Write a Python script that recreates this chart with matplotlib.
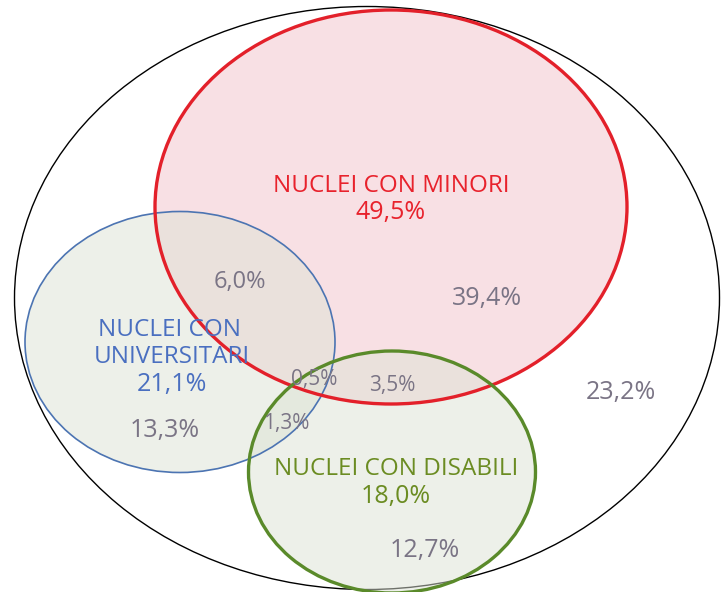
import matplotlib.pyplot as plt
from matplotlib.patches import Ellipse

plt.rcParams["font.family"] = ["Open Sans", "DejaVu Sans"]

# insiemi: etichetta, percentuale totale
set_names = ["NUCLEI CON MINORI", "NUCLEI CON\nUNIVERSITARI", "NUCLEI CON DISABILI"]
set_totals = ["49,5%", "21,1%", "18,0%"]

# percentuali delle singole regioni
region_names = ["solo minori", "minori+universitari", "solo universitari",
                "minori+universitari+disabili", "minori+disabili",
                "universitari+disabili", "solo disabili", "nessuno"]
region_values = ["39,4%", "6,0%", "13,3%", "0,5%", "3,5%", "1,3%", "12,7%", "23,2%"]

# geometria (pixel, origine in alto a sinistra)
outer = dict(xy=(367, 298), w=705, h=583)
ellipses = [
    dict(xy=(391, 207), w=472, h=394, fill="#F3C3CB", edge="#E3202A", lw=2.4),
    dict(xy=(180, 342), w=310, h=261, fill="#DDE3D5", edge="#4C74B2", lw=1.2),
    dict(xy=(392, 472), w=287, h=242, fill="#DDE3D5", edge="#5A8A2A", lw=2.4),
]
set_label_pos = [(391, 186), (170, 330), (396, 469)]
set_total_pos = [(391, 213), (172, 385), (396, 497)]
set_colors = ["#E8222C", "#4A6FC0", "#6B8C22"]
line_step = 27
region_pos = [(487, 298), (240, 282), (165, 430), (314, 379), (392, 386),
              (286, 423), (425, 550), (621, 392)]
region_sizes = [18, 17, 18, 15, 15, 15, 18, 18]

fig = plt.figure(figsize=(7.22, 5.92), dpi=100)
ax = fig.add_axes([0, 0, 1, 1])
ax.set_xlim(0, 722)
ax.set_ylim(592, 0)
ax.axis("off")

ax.add_patch(Ellipse(outer["xy"], outer["w"], outer["h"], facecolor="white",
                     edgecolor="black", lw=1.0, zorder=1))

# riempimenti semitrasparenti
for e in ellipses:
    ax.add_patch(Ellipse(e["xy"], e["w"], e["h"], facecolor=e["fill"],
                         edgecolor="none", alpha=0.5, zorder=2))

# contorni: blu sotto, poi rosso e verde
for i in [1, 0, 2]:
    e = ellipses[i]
    ax.add_patch(Ellipse(e["xy"], e["w"], e["h"], facecolor="none",
                         edgecolor=e["edge"], lw=e["lw"], zorder=3))

for name, tot, p1, p2, c in zip(set_names, set_totals, set_label_pos,
                                set_total_pos, set_colors):
    for k, line in enumerate(name.split("\n")):
        ax.text(p1[0] + 2 * k, p1[1] + k * line_step, line, color=c,
                fontsize=17.5, ha="center", va="center", zorder=4)
    ax.text(p2[0], p2[1], tot, color=c, fontsize=18, ha="center", va="center",
            zorder=4)

for val, p, s in zip(region_values, region_pos, region_sizes):
    ax.text(p[0], p[1], val, color="#7A7485", fontsize=s, ha="center",
            va="center", zorder=4)

fig.savefig("out.png", dpi=100)
